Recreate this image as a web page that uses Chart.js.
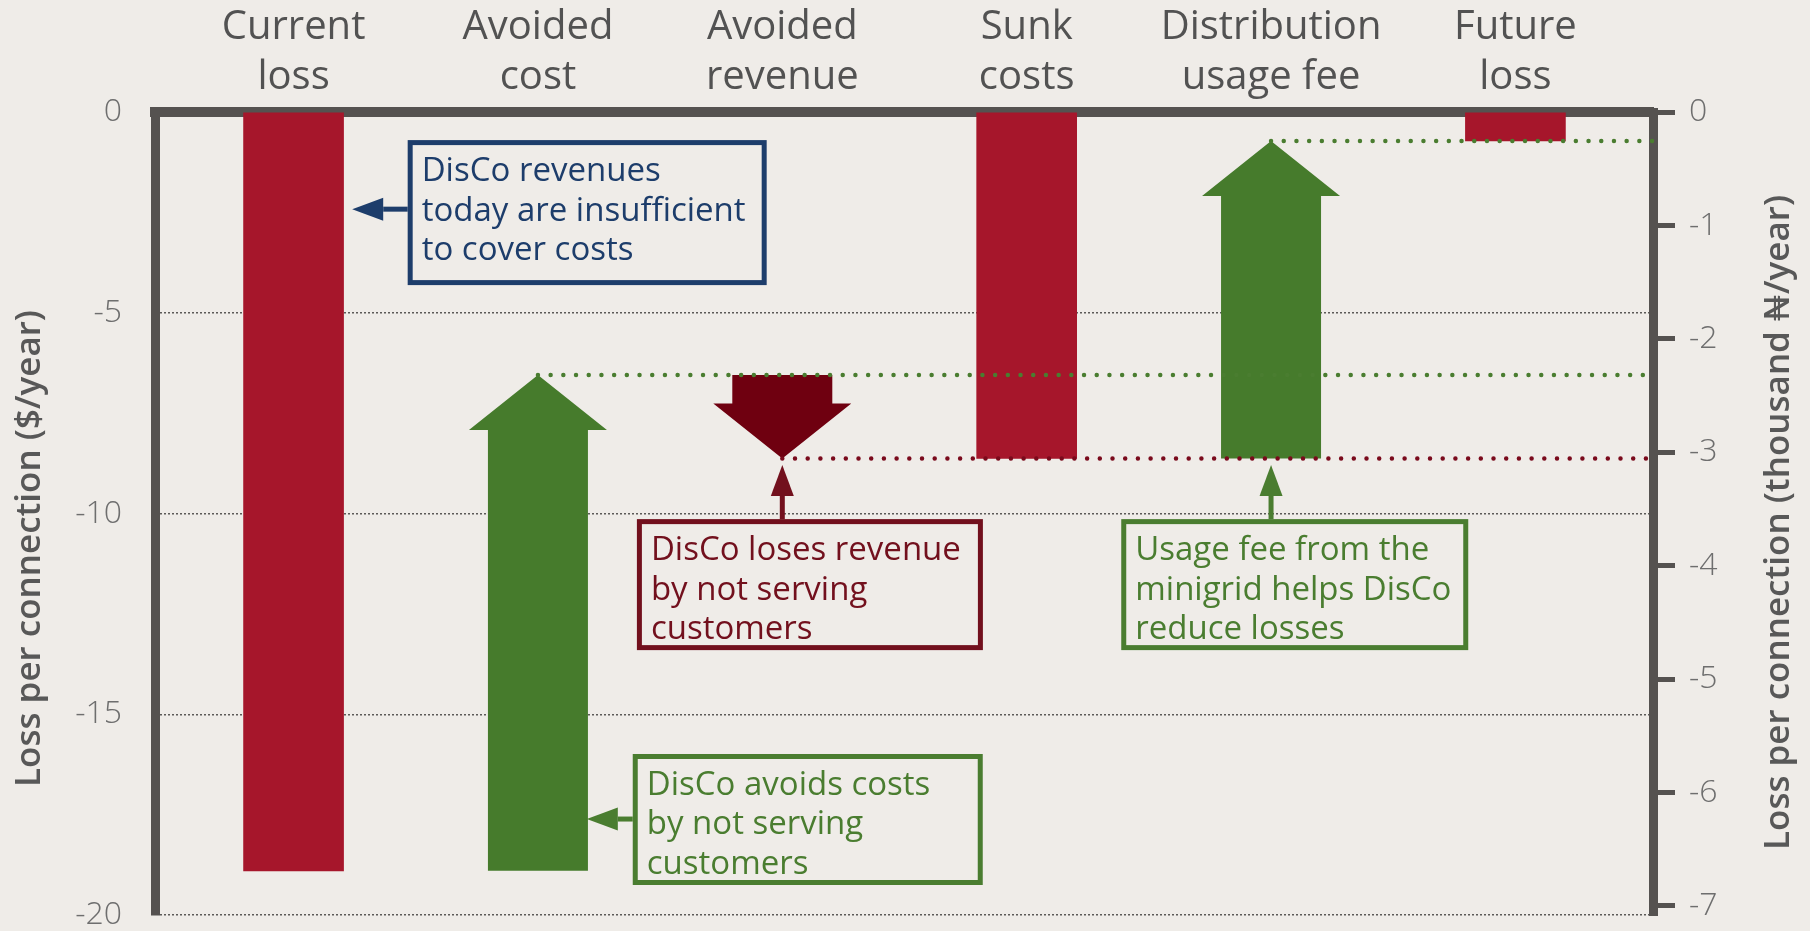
<!DOCTYPE html>
<html>
<head>
<meta charset="utf-8">
<script src="https://cdn.jsdelivr.net/npm/chart.js@4.4.1/dist/chart.umd.min.js"></script>
<style>
  html,body{margin:0;padding:0;background:#efece8;}
  #wrap{position:relative;width:1810px;height:931px;}
</style>
</head>
<body>
<div id="wrap"><canvas id="c"></canvas></div>
<script>
// steps of the loss bridge, $ per connection per year
const categories = [['Current','loss'], ['Avoided','cost'], ['Avoided','revenue'], ['Sunk','costs'], ['Distribution','usage fee'], ['Future','loss']];
const stepFrom = [0, -18.9, -6.55, 0, -8.63, 0];
const stepTo   = [-18.9, -6.55, -8.63, -8.63, -0.72, -0.72];
const stepKind = ['bar', 'up', 'down', 'bar', 'up', 'bar'];
const usdMin = -20, usdStep = 5;
const nairaPerUsd = 354;   // right axis in thousand naira
const leftTitle = 'Loss per connection ($/year)';
const rightTitle = 'Loss per connection (thousand \u20A6/year)';

// callouts, anchored in axis units (x = category index, y = $)
const callouts = [
  {lines:['DisCo revenues','today are insufficient','to cover costs'], color:'#1d3d6b', at:[0.467,-0.70], w:359, h:145, dir:'left', tip:[0.240,-2.42]},
  {lines:['DisCo loses revenue','by not serving','customers'], color:'#72101d', at:[1.405,-10.14], w:346, h:131, dir:'up', tip:[2,-8.79]},
  {lines:['Usage fee from the','minigrid helps DisCo','reduce losses'], color:'#4a7d30', at:[3.387,-10.14], w:347, h:131, dir:'up', tip:[4,-8.79]},
  {lines:['DisCo avoids costs','by not serving','customers'], color:'#4a7d30', at:[1.388,-15.99], w:350, h:131, dir:'left', tip:[1.2,-17.61]},
];

const RED = '#a6162b', GREEN = '#467b2c', DARKRED = '#6f0010', AXIS = '#555250';
const X_MIN = -0.567, X_MAX = 5.563;
const FONT = '"Open Sans", Lato, sans-serif';

const bridgeSet = {
  type:'bar', order:1,
  data: stepFrom.map((s,i)=>({x:i, y:[s, stepTo[i]]})),
  backgroundColor: stepKind.map(k=>k==='bar'? RED : 'rgba(0,0,0,0)'),
  barThickness:100,
};
const connectorSets = stepKind.map((k,i)=> k==='bar'? null : {
  type:'line', order:0,
  data:[{x:i, y:stepTo[i]}, {x:X_MAX, y:stepTo[i]}],
  borderColor: k==='up'? '#4a7d30' : '#7a0a1c',
  borderWidth:4.5, borderDash:[0,12.7], borderCapStyle:'round',
  pointRadius:0, clip:false,
}).filter(Boolean);

const stepArrows = {
  id:'stepArrows',
  afterDatasetDraw(chart, args){
    if (args.index !== 0) return;
    const {ctx, scales:{x, y}} = chart;
    stepKind.forEach((k,i)=>{
      if (k==='bar') return;
      const bw = args.meta.data[i].width, hw = bw*1.38, hl = 55;
      const cx = x.getPixelForValue(i);
      const y0 = y.getPixelForValue(stepFrom[i]), y1 = y.getPixelForValue(stepTo[i]);
      const dir = Math.sign(y1 - y0);
      const ys = y1 - dir*hl;
      ctx.save();
      ctx.fillStyle = k==='up'? GREEN : DARKRED;
      ctx.beginPath();
      ctx.moveTo(cx-bw/2, y0); ctx.lineTo(cx-bw/2, ys); ctx.lineTo(cx-hw/2, ys);
      ctx.lineTo(cx, y1);
      ctx.lineTo(cx+hw/2, ys); ctx.lineTo(cx+bw/2, ys); ctx.lineTo(cx+bw/2, y0);
      ctx.closePath(); ctx.fill();
      ctx.restore();
    });
  }
};

function smallArrow(ctx, x0, y0, x1, y1, color){
  const ang = Math.atan2(y1-y0, x1-x0), hl = 31, hw = 23;
  const bx = x1 - Math.cos(ang)*hl, by = y1 - Math.sin(ang)*hl;
  ctx.strokeStyle = color; ctx.fillStyle = color; ctx.lineWidth = 5;
  ctx.beginPath(); ctx.moveTo(x0,y0); ctx.lineTo(bx,by); ctx.stroke();
  ctx.beginPath();
  ctx.moveTo(x1,y1);
  ctx.lineTo(bx - Math.sin(ang)*hw/2, by + Math.cos(ang)*hw/2);
  ctx.lineTo(bx + Math.sin(ang)*hw/2, by - Math.cos(ang)*hw/2);
  ctx.closePath(); ctx.fill();
}

const notes = {
  id:'notes',
  afterDraw(chart){
    const {ctx, scales:{x, y}, chartArea:a} = chart;
    ctx.save();
    callouts.forEach(c=>{
      const bx = x.getPixelForValue(c.at[0]), by = y.getPixelForValue(c.at[1]);
      const tx = x.getPixelForValue(c.tip[0]), ty = y.getPixelForValue(c.tip[1]);
      ctx.fillStyle = '#efece8';
      ctx.fillRect(bx, by, c.w, c.h);
      ctx.strokeStyle = c.color; ctx.lineWidth = 5;
      ctx.strokeRect(bx+2.5, by+2.5, c.w-5, c.h-5);
      ctx.fillStyle = c.color; ctx.font = '33px ' + FONT; ctx.textAlign = 'left'; ctx.textBaseline = 'alphabetic';
      c.lines.forEach((t,j)=> ctx.fillText(t, bx+14, by+41+j*39.5));
      if (c.dir==='left') smallArrow(ctx, bx, ty, tx, ty, c.color);
      else smallArrow(ctx, tx, by, tx, ty, c.color);
    });
    // axis titles, both read bottom to top
    ctx.font = '600 35px ' + FONT; ctx.fillStyle = '#585858';
    ctx.textAlign = 'center'; ctx.textBaseline = 'middle';
    [[a.left-125, (a.top+a.bottom)/2+35, leftTitle], [a.right+126, (a.top+a.bottom)/2+9, rightTitle]].forEach(([tx,ty,t])=>{
      ctx.save(); ctx.translate(tx, ty); ctx.rotate(-Math.PI/2); ctx.fillText(t, 0, 0); ctx.restore();
    });
    ctx.restore();
  }
};

Chart.defaults.font.family = FONT;
const noPad = s=>{ s.paddingTop = 0; s.paddingBottom = 0; };

new Chart(document.getElementById('c'), {
  type:'bar',
  data:{ datasets:[bridgeSet, ...connectorSets] },
  options:{
    responsive:true, maintainAspectRatio:false, animation:false,
    layout:{ padding:{left:0, right:0, top:0, bottom:16} },
    plugins:{ legend:{display:false}, tooltip:{enabled:false} },
    scales:{
      x:{ type:'linear', position:'top', min:X_MIN, max:X_MAX, offset:false,
        grid:{display:false, drawTicks:false},
        border:{display:true, width:10, color:AXIS},
        ticks:{ stepSize:1, includeBounds:false, autoSkip:false, maxRotation:0, padding:9,
          font:{size:40, lineHeight:1.25}, color:'#525252',
          callback:v=> Number.isInteger(v) && categories[v] ? categories[v] : '' },
        afterFit:s=>{ s.height = 112; s.paddingLeft = 0; s.paddingRight = 0; } },
      y:{ type:'linear', position:'left', min:usdMin, max:0,
        grid:{color:'#5c5a58', lineWidth:1.5, drawTicks:false},
        border:{display:true, width:9, color:AXIS, dash:[2,2]},
        ticks:{ stepSize:usdStep, padding:33, font:{size:32, weight:'300'}, color:'#6e6e6e' },
        afterFit:s=>{ s.width = 155; noPad(s); } },
      y2:{ type:'linear', position:'right', min:usdMin*nairaPerUsd/1000, max:0,
        grid:{drawOnChartArea:false, drawTicks:true, tickLength:22, tickWidth:5, tickColor:AXIS},
        border:{display:true, width:9, color:AXIS},
        ticks:{ stepSize:1, includeBounds:false, padding:14, font:{size:32, weight:'300'}, color:'#6e6e6e' },
        afterFit:s=>{ s.width = 157; noPad(s); } },
    }
  },
  plugins:[stepArrows, notes]
});
</script>
</body>
</html>
